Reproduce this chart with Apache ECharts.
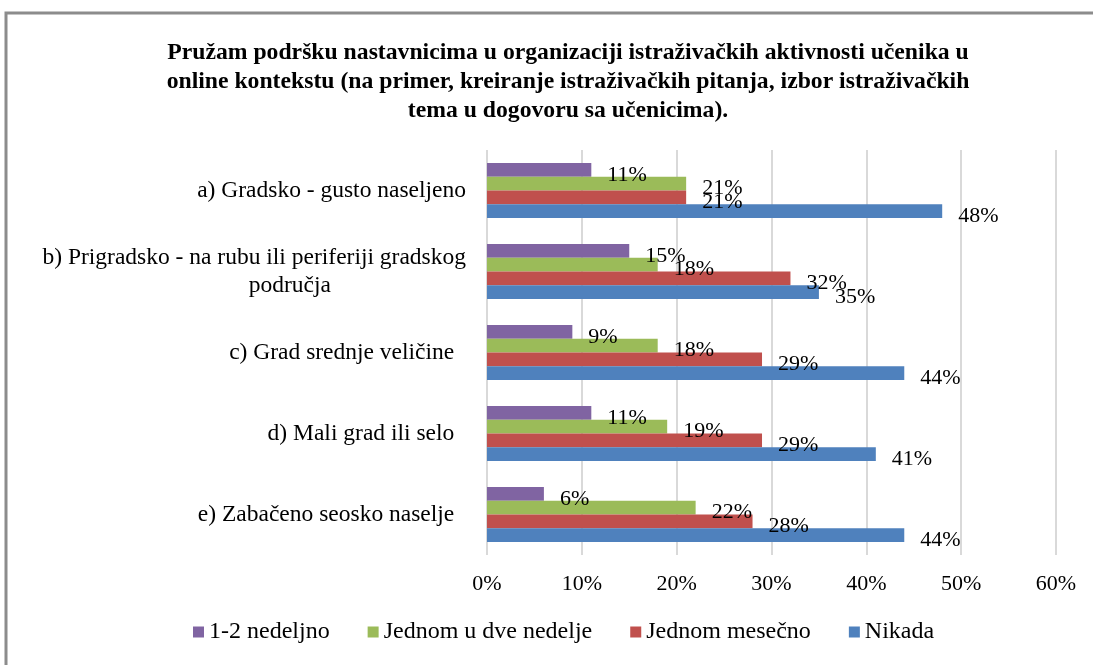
<!DOCTYPE html>
<html>
<head>
<meta charset="utf-8">
<script src="https://cdn.jsdelivr.net/npm/echarts@6/dist/echarts.min.js"></script>
<style>
  html, body { margin: 0; padding: 0; background: #fff; }
  #chart { width: 1093px; height: 665px; }
</style>
</head>
<body>
<div id="chart"></div>
<script>
var categories = [
    'a) Gradsko - gusto naseljeno',
    'b) Prigradsko - na rubu ili periferiji gradskog\npodručja                       ',
    'c) Grad srednje veličine  ',
    'd) Mali grad ili selo  ',
    'e) Zabačeno seosko naselje  '
];
var seriesNames = ['1-2 nedeljno', 'Jednom u dve nedelje', 'Jednom mesečno', 'Nikada'];
var nedeljno = [11, 15, 9, 11, 6];
var dveNedelje = [21, 18, 18, 19, 22];
var mesecno = [21, 32, 29, 29, 28];
var nikada = [48, 35, 44, 41, 44];
var xTicks = [0, 10, 20, 30, 40, 50, 60];

var colors = ['#8064a2', '#9bbb59', '#c0504d', '#4f81bd'];
var serif = '"Liberation Serif", "Times New Roman", serif';

var chart = echarts.init(document.getElementById('chart'));

function makeSeries(name, data, idx) {
    return {
        name: name,
        type: 'bar',
        data: data,
        barGap: '0%',
        barCategoryGap: '32%',
        itemStyle: { color: colors[idx] },
        label: {
            show: true,
            position: 'right',
            distance: 16,
            offset: [0, 5],
            formatter: '{c}%',
            fontFamily: serif,
            fontSize: 22,
            color: '#000'
        }
    };
}

var option = {
    animation: false,
    title: {
        text: 'Pružam podršku nastavnicima u organizaciji istraživačkih aktivnosti učenika u\nonline kontekstu (na primer, kreiranje istraživačkih pitanja, izbor istraživačkih\ntema u dogovoru sa učenicima).',
        left: 563,
        top: 33,
        textAlign: 'center',
        textStyle: {
            fontFamily: serif,
            fontWeight: 'bold',
            fontSize: 23.7,
            lineHeight: 29,
            color: '#000'
        }
    },
    graphic: [{
        type: 'rect',
        shape: { x: 6, y: 13, width: 1200, height: 800 },
        style: { fill: null, stroke: '#8c8c8c', lineWidth: 3 },
        silent: true
    }],
    legend: {
        data: seriesNames,
        bottom: 16,
        left: 188,
        itemWidth: 11,
        itemHeight: 11,
        itemGap: 38,
        icon: 'rect',
        textStyle: { fontFamily: serif, fontSize: 24, color: '#000' }
    },
    grid: { left: 487, right: 37, top: 150, bottom: 110 },
    xAxis: {
        type: 'value',
        min: 0,
        max: 60,
        interval: 10,
        axisLine: { show: false },
        axisTick: { show: false },
        splitLine: { lineStyle: { color: '#d9d9d9', width: 2 } },
        axisLabel: {
            formatter: function (v) { return xTicks.indexOf(v) >= 0 ? v + '%' : ''; },
            fontFamily: serif,
            fontSize: 22,
            color: '#000',
            margin: 18
        }
    },
    yAxis: {
        type: 'category',
        data: categories,
        inverse: true,
        axisLine: { show: false },
        axisTick: { show: false },
        axisLabel: {
            fontFamily: serif,
            fontSize: 23.5,
            color: '#000',
            margin: 21,
            lineHeight: 28,
            padding: [6, 0, 0, 0]
        }
    },
    series: [
        makeSeries(seriesNames[0], nedeljno, 0),
        makeSeries(seriesNames[1], dveNedelje, 1),
        makeSeries(seriesNames[2], mesecno, 2),
        makeSeries(seriesNames[3], nikada, 3)
    ]
};

chart.setOption(option);
</script>
</body>
</html>
